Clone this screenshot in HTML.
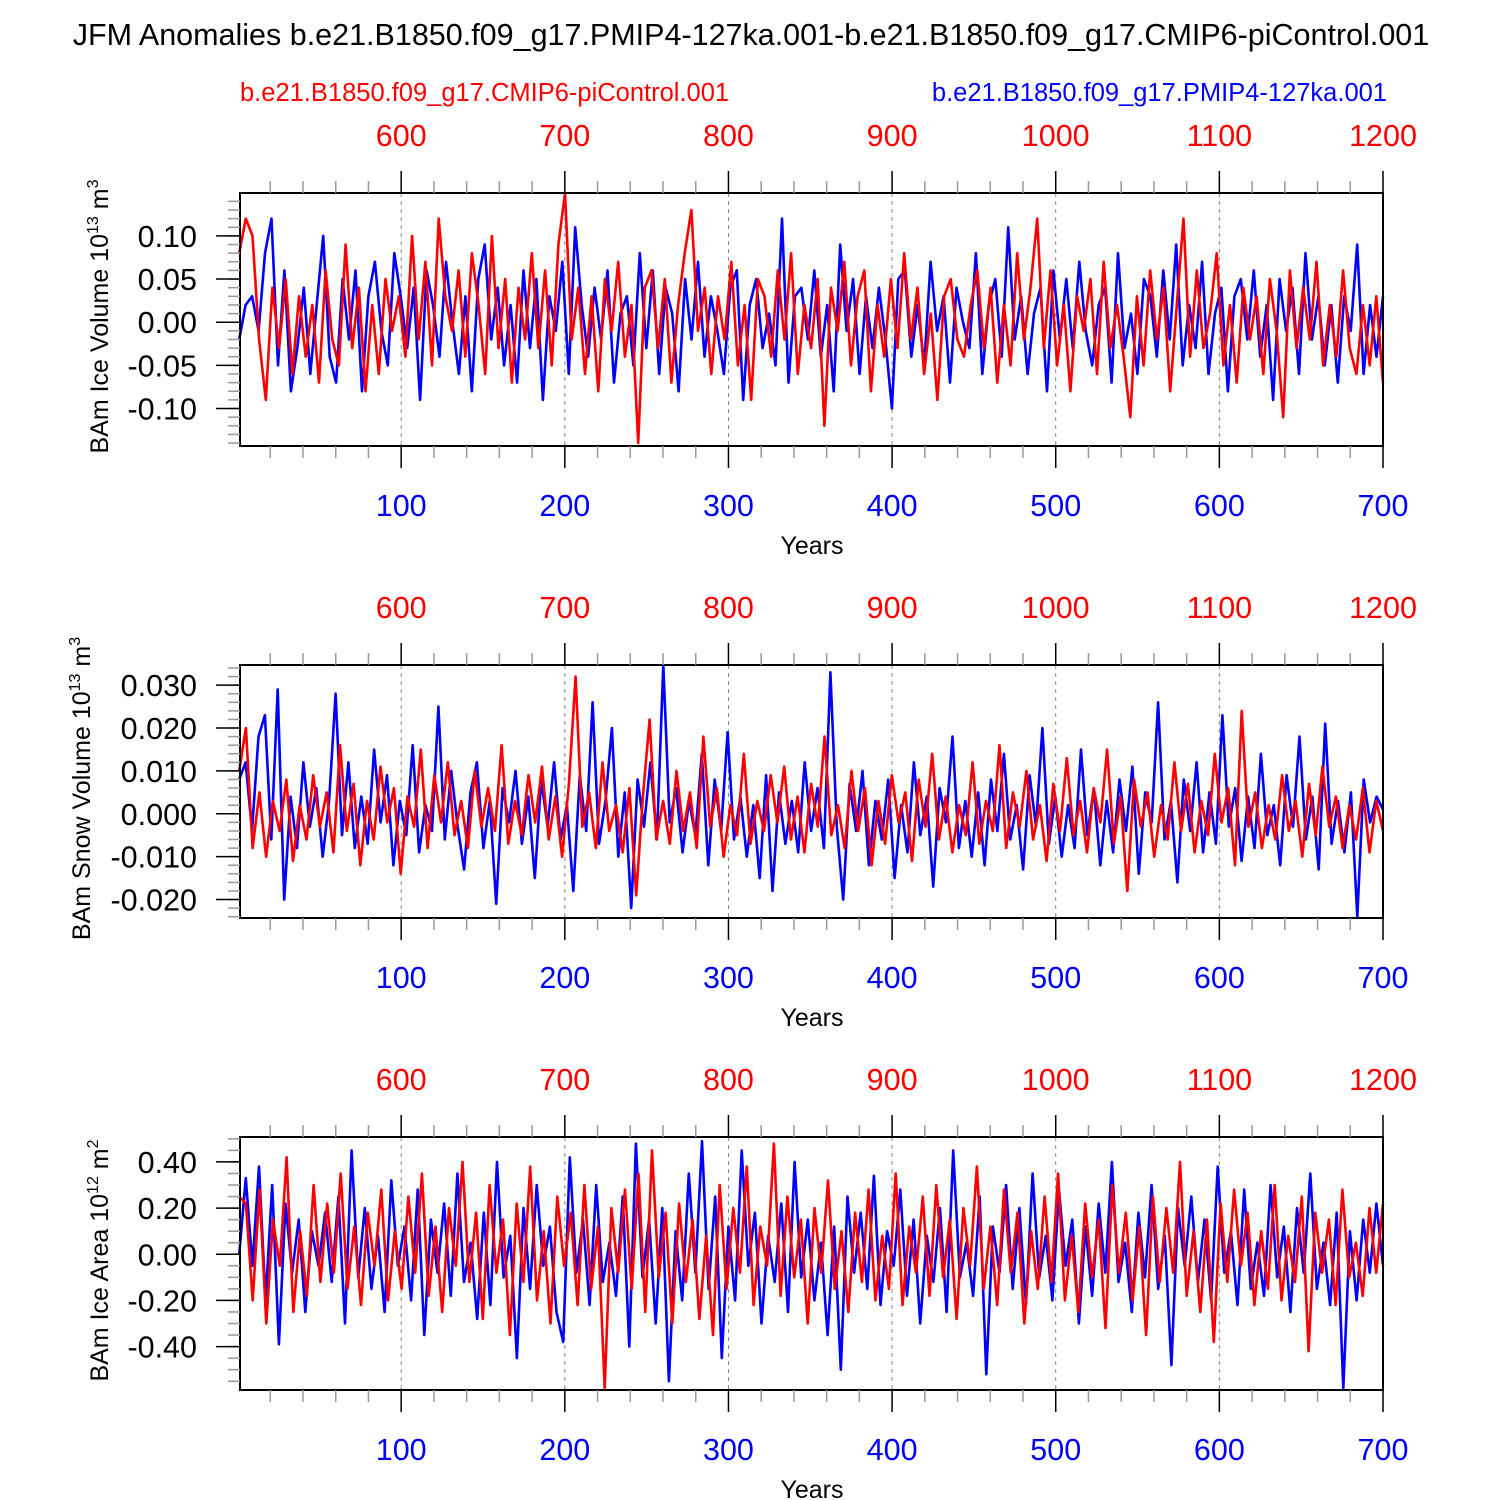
<!DOCTYPE html>
<html><head><meta charset="utf-8">
<style>
html,body{margin:0;padding:0;background:#fff;}
svg{display:block;font-family:"Liberation Sans",Arial,sans-serif;}
</style></head>
<body>
<svg id="chart" width="1500" height="1500" viewBox="0 0 1500 1500" xmlns="http://www.w3.org/2000/svg">
<text x="751" y="45" font-size="30.5" text-anchor="middle" fill="#000">JFM Anomalies b.e21.B1850.f09_g17.PMIP4-127ka.001-b.e21.B1850.f09_g17.CMIP6-piControl.001</text>
<text x="240" y="101" font-size="25.5" fill="#ff0000">b.e21.B1850.f09_g17.CMIP6-piControl.001</text>
<text x="1387" y="101" font-size="25.5" fill="#0000ff" text-anchor="end">b.e21.B1850.f09_g17.PMIP4-127ka.001</text>
</svg>
<script>
// Years axis: series span years 1..700 (bottom axis); top axis = bottom + 500
const xTicksBottom = [100,200,300,400,500,600,700];
const xTicksTop = [600,700,800,900,1000,1100,1200];
// Panel 1: BAm Ice Volume (values x0.01, 10^13 m^3)
const iceVolBlue = [-2,2,3,-1,8,12,-5,6,-8,-3,4,-6,2,10,-4,-7,5,-2,6,-8,3,7,-1,-5,8,3,-3,4,-9,6,2,-4,7,0,-6,3,-8,5,9,-2,4,-5,2,-7,6,-3,5,-9,3,-1,7,-6,11,2,-4,4,-2,6,-7,1,3,-5,8,-3,6,-6,4,1,-8,5,-2,7,-4,3,-1,-6,4,6,-9,2,5,-3,1,-5,12,-7,3,4,-2,6,-4,2,-8,9,-1,5,-6,3,-3,4,-2,-10,5,6,-4,2,-5,7,-1,3,-7,4,0,-3,8,-6,2,5,-4,11,-2,3,-6,1,4,-8,6,-2,5,-3,7,-1,-5,2,4,-7,8,-3,1,-6,5,3,-4,6,-2,9,-5,2,-3,7,-6,1,4,-8,3,5,-2,6,-4,2,-9,5,-1,4,-6,8,-2,3,-5,2,-7,3,-1,9,-6,2,-4,3];
const iceVolRed = [8,12,10,-2,-9,4,-3,5,-6,3,-4,2,-7,6,-2,-5,9,-3,4,-8,2,-6,5,-1,3,-4,10,-2,7,-5,12,3,-1,6,-4,8,2,-6,10,-3,5,-7,4,-2,8,-3,6,-5,9,15,-2,4,-6,3,-8,5,-1,7,-4,2,-14,4,6,-3,5,-7,2,8,13,-1,4,-6,3,-2,7,-5,2,-9,5,3,-4,6,-2,8,-6,2,-3,5,-12,4,-1,7,-5,3,6,-8,2,-4,5,-3,8,-2,4,-6,1,-9,3,5,-2,-4,2,6,-3,4,-7,2,-5,8,-2,4,12,-3,6,-5,2,-8,3,-1,5,-6,7,-3,2,-4,-11,3,-5,6,-2,4,-8,2,12,-4,6,-3,1,8,-5,2,-7,4,-2,3,-6,5,-1,-11,6,-3,4,-2,7,-5,2,-4,6,-3,-6,2,-5,3,-7];
// Panel 2: BAm Snow Volume (values x0.001, 10^13 m^3)
const snowVolBlue = [8,12,-4,18,23,-6,29,-20,4,-8,12,-3,6,-10,3,28,-5,12,-8,4,-7,15,-2,9,-12,3,-5,16,-9,2,-4,25,-6,10,-3,-13,5,12,-8,3,-21,6,-2,10,-7,4,-15,8,-3,12,-6,2,-18,9,-4,26,-7,3,20,-10,5,-22,8,-3,12,-6,35,-2,6,-9,3,-5,14,-12,8,-4,19,-6,4,-10,2,-15,9,-18,5,-7,3,-9,12,-4,6,-8,33,-3,-20,7,-4,10,-12,3,-6,8,-15,2,-9,12,-5,4,-17,6,-2,18,-8,3,-10,5,-12,8,-4,14,-6,2,-13,9,-3,20,-7,4,-10,2,-8,15,-5,6,-12,3,-9,8,-4,11,-14,5,-2,26,-6,3,-16,8,-4,12,-9,5,-7,23,-3,6,-11,4,-8,14,-5,2,-12,9,-3,18,-6,4,-13,21,-7,3,-9,5,-24,8,-2,4,1];
const snowVolRed = [10,20,-8,5,-10,3,-4,8,-11,2,-6,9,-3,5,-9,16,-4,7,-12,3,-6,11,-2,6,-14,4,-3,15,-8,9,-2,12,-5,3,-8,10,-3,6,-4,16,-7,3,-5,9,-2,11,-6,4,-10,7,32,-3,5,-8,12,-4,2,-9,6,-19,4,22,-6,3,-7,10,-4,5,-8,18,-3,6,-10,2,-5,14,-7,3,-4,9,-2,11,-6,4,-9,7,-3,18,-5,2,-8,10,-4,6,-12,3,-7,9,-2,5,-11,8,-3,14,-6,4,-9,2,-5,12,-7,3,-4,16,-8,5,-3,10,-6,2,-11,7,-4,13,-5,3,-9,6,-2,15,-7,4,-18,8,-3,5,-10,2,-6,12,-4,7,-9,3,-5,14,-2,6,-12,24,-3,5,-8,2,-6,9,-4,3,-10,7,-5,11,-3,4,-8,2,-6,6,-9,3,-4];
// Panel 3: BAm Ice Area (values x0.01, 10^12 m^2)
const iceAreaBlue = [0,33,-5,38,-20,30,-39,22,-8,15,-25,10,-5,18,-12,25,-30,45,-10,20,-15,8,-25,32,-5,12,-20,28,-35,15,-8,22,-18,35,-12,5,-28,18,-22,40,-10,8,-45,20,-15,30,-5,12,-25,-38,42,-8,15,-22,30,-12,5,-18,25,-40,48,-10,15,-30,20,-55,10,-20,35,-8,49,-15,25,-45,12,-20,45,-5,18,-30,8,-12,22,-25,40,-10,15,-20,5,-35,12,-50,25,-8,18,-15,34,-22,10,-5,28,-18,15,-30,8,-12,20,-25,45,-10,5,-18,25,-52,12,-8,30,-15,20,-22,35,-10,8,-20,28,-5,15,-30,12,-18,22,-8,40,-12,5,-25,18,-10,30,-15,8,-48,20,-5,25,-12,15,-20,38,-8,10,-22,28,-15,5,-18,30,-10,12,-25,20,-8,35,-15,5,-22,18,-58,10,-20,15,-8,22,-5];
const iceAreaRed = [25,22,-20,28,-30,15,-5,42,-25,10,-18,30,-12,22,-8,35,-15,12,-22,18,-5,28,-20,10,-15,25,-8,35,-18,12,-25,20,-5,40,-12,18,-28,30,-8,15,-35,22,-12,38,-20,10,-30,25,-5,18,-22,30,-15,12,-58,20,-8,28,-15,35,-25,45,-10,18,-30,22,-12,15,-28,8,-35,30,-15,20,-8,38,-22,12,-5,48,-18,25,-10,15,-30,20,-8,32,-15,10,-25,18,-12,28,-20,8,-15,35,-22,12,-8,25,-18,30,-10,15,-28,20,-5,38,-15,12,-22,28,-8,18,-30,10,-15,25,-12,35,-20,8,-25,22,-10,15,-32,30,-8,18,-20,12,-35,25,-12,20,-8,40,-18,10,-25,15,-38,22,-12,28,-5,18,-22,10,-15,30,-20,8,-12,25,-42,18,-8,15,-22,28,-10,5,-18,20,-8,22];

const NS = "http://www.w3.org/2000/svg";
const svg = document.getElementById('chart');
const X0 = 240, X1 = 1383, YR0 = 1.5, YR1 = 700;
function xScale(yr){ return X0 + (yr - YR0) * (X1 - X0) / (YR1 - YR0); }
function mk(tag, attrs, parent){ const e = document.createElementNS(NS, tag); for (const k in attrs) e.setAttribute(k, attrs[k]); (parent||svg).appendChild(e); return e; }

const panels = [
  {name:'ice-volume', top:193, bot:446, vmin:-0.1434, vmax:0.1497, scale:0.01, major:[-0.10,-0.05,0,0.05,0.10], fmt:2, minorStep:0.01, blue:iceVolBlue, red:iceVolRed, title:'BAm Ice Volume 10', sup:'13', unit:' m', usup:'3', tx:108},
  {name:'snow-volume', top:665, bot:918, vmin:-0.0243, vmax:0.0347, scale:0.001, major:[-0.02,-0.01,0,0.01,0.02,0.03], fmt:3, minorStep:0.002, blue:snowVolBlue, red:snowVolRed, title:'BAm Snow Volume 10', sup:'13', unit:' m', usup:'3', tx:90},
  {name:'ice-area', top:1137, bot:1390, vmin:-0.588, vmax:0.508, scale:0.01, major:[-0.4,-0.2,0,0.2,0.4], fmt:2, minorStep:0.05, blue:iceAreaBlue, red:iceAreaRed, title:'BAm Ice Area 10', sup:'12', unit:' m', usup:'2', tx:108}
];

panels.forEach(p => {
  const g = mk('g', {});
  
  
  const yS = v => p.bot - (v - p.vmin) * (p.bot - p.top) / (p.vmax - p.vmin);
  xTicksBottom.slice(0, -1).forEach(t => {
    const l = mk('line', {x1:xScale(t), x2:xScale(t), y1:p.top, y2:p.bot, stroke:'#888', 'stroke-width':1, 'stroke-dasharray':'4,4'}, g);
    
    
  });
  [['blue', p.blue, '#0000ff'], ['red', p.red, '#ff0000']].forEach(([nm, arr, col]) => {
    const n = arr.length;
    let d = '';
    arr.forEach((v, i) => {
      const yr = 1 + i * 699 / (n - 1);
      const yy = Math.max(p.top, Math.min(p.bot, yS(v * p.scale)));
      d += (i ? 'L' : 'M') + xScale(yr).toFixed(1) + ',' + yy.toFixed(1);
    });
    const path = mk('path', {d:d, fill:'none', stroke:col, 'stroke-width':2.6, 'stroke-linejoin':'round'}, g);
    
    
  });
  const fr = mk('rect', {x:X0, y:p.top, width:X1 - X0, height:p.bot - p.top, fill:'none', stroke:'#000', 'stroke-width':2}, g);
  
  
  for (let yr = 20; yr <= 700; yr += 20) {
    const maj = yr % 100 === 0;
    const len = maj ? 22 : 12;
    const x = xScale(yr);
    mk('line', {x1:x, x2:x, y1:p.top, y2:p.top - len, stroke: maj ? '#000' : '#999', 'stroke-width':1.5}, g);
    mk('line', {x1:x, x2:x, y1:p.bot, y2:p.bot + len, stroke: maj ? '#000' : '#999', 'stroke-width':1.5}, g);
  }
  xTicksBottom.forEach(t => {
    const tl = mk('text', {x:xScale(t), y:p.bot + 70, 'font-size':30.5, fill:'#0000ff', 'text-anchor':'middle'}, g);
    tl.textContent = t;
    
    
  });
  xTicksTop.forEach((t, i) => {
    const tl = mk('text', {x:xScale(xTicksBottom[i]), y:p.top - 47, 'font-size':30.5, fill:'#ff0000', 'text-anchor':'middle'}, g);
    tl.textContent = t;
    
    
  });
  const xt = mk('text', {x:812, y:p.bot + 108, 'font-size':25, fill:'#000', 'text-anchor':'middle'}, g);
  xt.textContent = 'Years';
  
  
  const start = Math.ceil(p.vmin / p.minorStep - 1e-6);
  for (let k = start; k * p.minorStep <= p.vmax + 1e-9; k++) {
    const v = k * p.minorStep;
    mk('line', {x1:X0, x2:X0 - 12, y1:yS(v), y2:yS(v), stroke:'#999', 'stroke-width':1.5}, g);
  }
  p.major.forEach(v => {
    mk('line', {x1:X0, x2:X0 - 24, y1:yS(v), y2:yS(v), stroke:'#000', 'stroke-width':1.5}, g);
    const tl = mk('text', {x:X0 - 43, y:yS(v) + 11, 'font-size':30.5, fill:'#000', 'text-anchor':'end'}, g);
    tl.textContent = v.toFixed(p.fmt);
    
    
  });
  const cy = (p.top + p.bot) / 2 - 3;
  const yt = mk('text', {x:0, y:0, 'font-size':25, fill:'#000', 'text-anchor':'middle', transform:'translate(' + p.tx + ',' + cy + ') rotate(-90)'}, g);
  
  
  const t1 = mk('tspan', {}, yt); t1.textContent = p.title;
  const t2 = mk('tspan', {dy:-10, 'font-size':16}, yt); t2.textContent = p.sup;
  const t3 = mk('tspan', {dy:10}, yt); t3.textContent = p.unit;
  const t4 = mk('tspan', {dy:-10, 'font-size':16}, yt); t4.textContent = p.usup;
});
</script>
</body></html>
